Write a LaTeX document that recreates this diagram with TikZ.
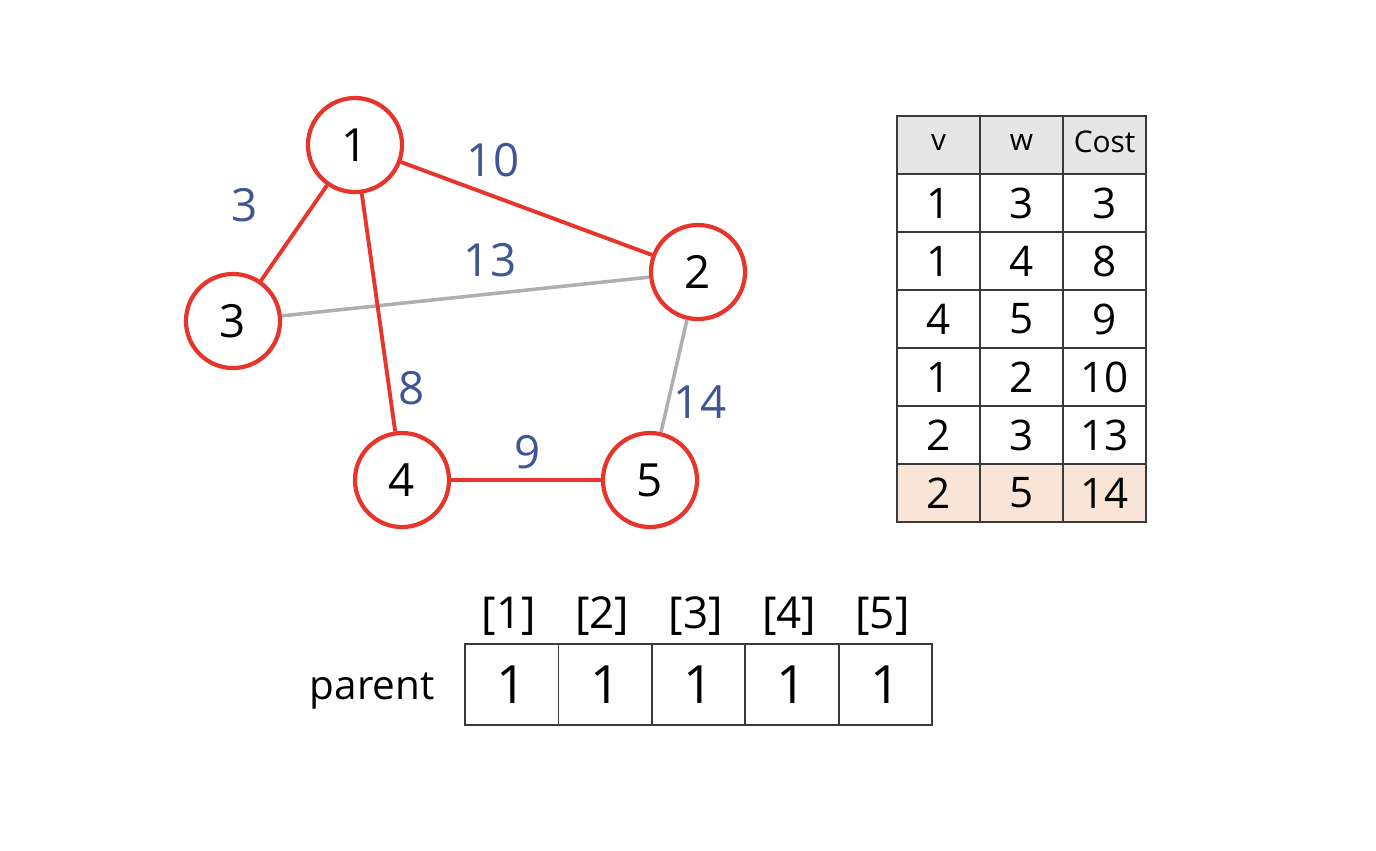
\documentclass[tikz,border=0pt]{standalone}
\usepackage{fontspec}
\setmainfont{Open Sans}
\usetikzlibrary{positioning}
\definecolor{edgered}{HTML}{E8352B}
\definecolor{edgegray}{HTML}{AFAFAF}
\definecolor{costblue}{HTML}{3F5596}
\definecolor{headgray}{HTML}{E6E6E6}
\definecolor{peach}{HTML}{F9E5D7}
\definecolor{rulegray}{HTML}{3A3A3A}

\begin{document}
\begin{tikzpicture}[
  x=0.01cm,y=-0.01cm,
  vertex/.style={circle,draw=edgered,line width=1.2pt,fill=white,minimum size=0.94cm,inner sep=0pt,font=\fontsize{13}{13}\selectfont},
  tree/.style={draw=edgered,line width=1.1pt},
  spare/.style={draw=edgegray,line width=1pt},
  cost/.style={text=costblue,font=\fontsize{13}{13}\selectfont},
  cell/.style={draw=rulegray,line width=0.5pt,minimum width=0.83cm,minimum height=0.58cm,inner sep=0pt,outer sep=0pt,font=\fontsize{12}{12}\selectfont},
  headcell/.style={cell,fill=headgray,font=\fontsize{8.5}{8.5}\selectfont},
  slot/.style={draw=rulegray,line width=0.5pt,minimum width=0.934cm,minimum height=0.81cm,inner sep=0pt,outer sep=0pt,font=\fontsize{15}{15}\selectfont},
  index/.style={font=\fontsize{12.5}{12.5}\selectfont}
]
\useasboundingbox (0,0) rectangle (1376,850);

% graph
\node[vertex] (n1) at (355,145) {1};
\node[vertex] (n2) at (698,272) {2};
\node[vertex] (n3) at (233,321) {3};
\node[vertex] (n4) at (402,480) {4};
\node[vertex] (n5) at (650,480) {5};

\draw[spare] (n3) -- (n2);
\draw[spare] (n2) -- (n5);
\draw[tree] (n1) -- (n3);
\draw[tree] (n1) -- (n2);
\draw[tree] (n1) -- (n4);
\draw[tree] (n4) -- (n5);

\node[cost] (c13) at (245,205) {3};
\node[cost] (c12) at (493,160) {10};
\node[cost] (c32) at (490,260) {13};
\node[cost] (c14) at (412,388) {8};
\node[cost] (c25) at (700,402) {14};
\node[cost] (c45) at (528,452) {9};

% edge table
\node[headcell] (hv) at (938.5,145) {\raisebox{0.06cm}{v}};
\node[headcell,right=0pt of hv] (hw) {\raisebox{0.06cm}{w}};
\node[headcell,right=0pt of hw] (hc) {\raisebox{0.06cm}{Cost}};
\foreach \v/\w/\c [count=\i] in {1/3/3,1/4/8,4/5/9,1/2/10,2/3/13} {
  \node[cell] (v\i) at (938.5,145+58*\i) {\v};
  \node[cell,right=0pt of v\i] (w\i) {\w};
  \node[cell,right=0pt of w\i] (k\i) {\c};
}
\node[cell,fill=peach] (v6) at (938.5,493) {2};
\node[cell,fill=peach,right=0pt of v6] (w6) {5};
\node[cell,fill=peach,right=0pt of w6] (k6) {14};

% parent array
\node[slot] (p1) at (511.7,684.5) {1};
\foreach \i [remember=\i as \j (initially 1)] in {2,...,5} {
  \node[slot,right=0pt of p\j] (p\i) {1};
}
\foreach \i in {1,...,5} {
  \node[index] (i\i) at ([xshift=-0.03cm,yshift=0.28cm]p\i.north) {[\i]};
}
\node[index,left=0.18cm of p1,yshift=-0.06cm,font=\fontsize{11.5}{11.5}\selectfont] (plabel) {parent};
\end{tikzpicture}
\end{document}
